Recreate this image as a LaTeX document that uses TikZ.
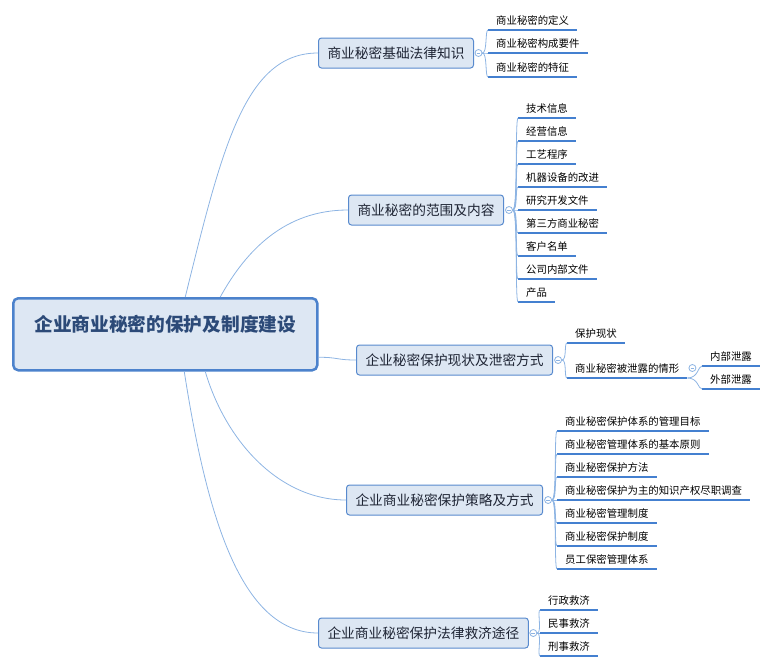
\documentclass[tikz,border=0pt]{standalone}
\usepackage{fontspec}
\setmainfont{Noto Sans CJK SC}
\usepackage{tikz}
\definecolor{wire}{RGB}{141,180,227}
\definecolor{uline}{RGB}{68,128,208}
\definecolor{boxfill}{RGB}{221,231,243}
\definecolor{boxline}{RGB}{88,138,206}
\definecolor{rootline}{RGB}{76,130,204}
\definecolor{roottext}{RGB}{44,74,120}
\definecolor{topictext}{RGB}{30,36,52}

\begin{document}
\begin{tikzpicture}[x=1pt,y=-1pt,
    rootbox/.style={draw=rootline,line width=2.5pt,fill=boxfill,rounded corners=5pt,
      minimum width=304pt,minimum height=72pt,align=center,text=roottext,
      font=\fontsize{18.7}{22}\selectfont\bfseries},
    topic/.style={draw=boxline,line width=1pt,fill=boxfill,rounded corners=3pt,
      minimum height=30pt,inner xsep=9pt,anchor=west,text=topictext,
      font=\fontsize{13.7}{16}\selectfont},
    leaf/.style={anchor=south west,inner xsep=8pt,inner ysep=3.5pt,text height=9pt,text depth=2pt,
      font=\fontsize{10.4}{12}\selectfont,
      append after command={(\tikzlastnode.south west) edge[draw=uline,line width=1.6pt] (\tikzlastnode.south east)}},
    knob/.style={circle,draw=wire,fill=white,line width=0.8pt,minimum size=7pt,inner sep=0pt,
      path picture={\draw[wire,line width=0.7pt] ([xshift=1.6pt]path picture bounding box.west) -- ([xshift=-1.6pt]path picture bounding box.east);}},
    branch/.style={draw=wire,line width=0.8pt}]
\useasboundingbox (0,0) rectangle (770,667);

% root and main topics
\node[rootbox,anchor=north west] (root) at (12,297) {企业商业秘密的保护及制度建设\\ \mbox{}};
\node[topic] (law) at (318,53) {商业秘密基础法律知识};
\node[topic] (scope) at (348,210) {商业秘密的范围及内容};
\node[topic] (status) at (356,360) {企业秘密保护现状及泄密方式};
\node[topic] (policy) at (346,500) {企业商业秘密保护策略及方式};
\node[topic] (remedy) at (318,633) {企业商业秘密保护法律救济途径};

\coordinate (r1) at ([xshift=20pt]root.north);
\coordinate (r2) at ([xshift=55pt]root.north);
\coordinate (r3) at ([yshift=-23pt]root.east);
\coordinate (r4) at ([xshift=40pt]root.south);
\coordinate (r5) at ([xshift=19pt]root.south);
\draw[branch] (r1) .. controls +(37,-150) and +(-73,0) .. (law.west);
\draw[branch] (r2) .. controls +(26,-47) and +(-63,0) .. (scope.west);
\draw[branch] (r3) .. controls +(20,0) and +(-20,0) .. (status.west);
\draw[branch] (r4) .. controls +(21,71) and +(-66,0) .. (policy.west);
\draw[branch] (r5) .. controls +(22,141) and +(-78,0) .. (remedy.west);

% knobs
\node[knob] (kLaw) at ([xshift=4.5pt]law.east) {};
\node[knob] (kScope) at ([xshift=5pt]scope.east) {};
\node[knob] (kStatus) at ([xshift=5pt]status.east) {};
\node[knob] (kPolicy) at ([xshift=5pt]policy.east) {};
\node[knob] (kRemedy) at ([xshift=4.5pt]remedy.east) {};

% basic law
\node[leaf] (l1) at (488,30) {商业秘密的定义};
\node[leaf] (l2) at (488,53) {商业秘密构成要件};
\node[leaf] (l3) at (488,77) {商业秘密的特征};
\foreach \n in {l1,l2,l3}
  \draw[branch] (kLaw.east) .. controls +(5,0) and +(-3,0) .. (\n.south west);

% scope
\node[leaf] (s1) at (518,118) {技术信息};
\node[leaf] (s2) at (518,141) {经营信息};
\node[leaf] (s3) at (518,164) {工艺程序};
\node[leaf] (s4) at (518,187) {机器设备的改进};
\node[leaf] (s5) at (518,210) {研究开发文件};
\node[leaf] (s6) at (518,233) {第三方商业秘密};
\node[leaf] (s7) at (518,256) {客户名单};
\node[leaf] (s8) at (518,279) {公司内部文件};
\node[leaf] (s9) at (518,302) {产品};
\foreach \n in {s1,s2,s3,s4,s5,s6,s7,s8,s9}
  \draw[branch] (kScope.east) .. controls +(5,0) and +(-3,0) .. (\n.south west);

% status
\node[leaf] (b1) at (567,343) {保护现状};
\node[leaf] (b2) at (567,378) {商业秘密被泄露的情形};
\foreach \n in {b1,b2}
  \draw[branch] (kStatus.east) .. controls +(5,0) and +(-3,0) .. (\n.south west);
\node[knob] (kLeak) at ([xshift=5pt,yshift=10pt]b2.south east) {};
\node[leaf] (c1) at (702,366) {内部泄露};
\node[leaf] (c2) at (702,389) {外部泄露};
\foreach \n in {c1,c2}
  \draw[branch] (b2.south east) .. controls +(11,0) and +(-4,0) .. (\n.south west);

% policy
\node[leaf] (p1) at (557,431) {商业秘密保护体系的管理目标};
\node[leaf] (p2) at (557,454) {商业秘密管理体系的基本原则};
\node[leaf] (p3) at (557,477) {商业秘密保护方法};
\node[leaf] (p4) at (557,500) {商业秘密保护为主的知识产权尽职调查};
\node[leaf] (p5) at (557,523) {商业秘密管理制度};
\node[leaf] (p6) at (557,546) {商业秘密保护制度};
\node[leaf] (p7) at (557,569) {员工保密管理体系};
\foreach \n in {p1,p2,p3,p4,p5,p6,p7}
  \draw[branch] (kPolicy.east) .. controls +(5,0) and +(-3,0) .. (\n.south west);

% remedy
\node[leaf] (m1) at (540,610) {行政救济};
\node[leaf] (m2) at (540,633) {民事救济};
\node[leaf] (m3) at (540,656) {刑事救济};
\foreach \n in {m1,m2,m3}
  \draw[branch] (kRemedy.east) .. controls +(5,0) and +(-3,0) .. (\n.south west);
\end{tikzpicture}
\end{document}
